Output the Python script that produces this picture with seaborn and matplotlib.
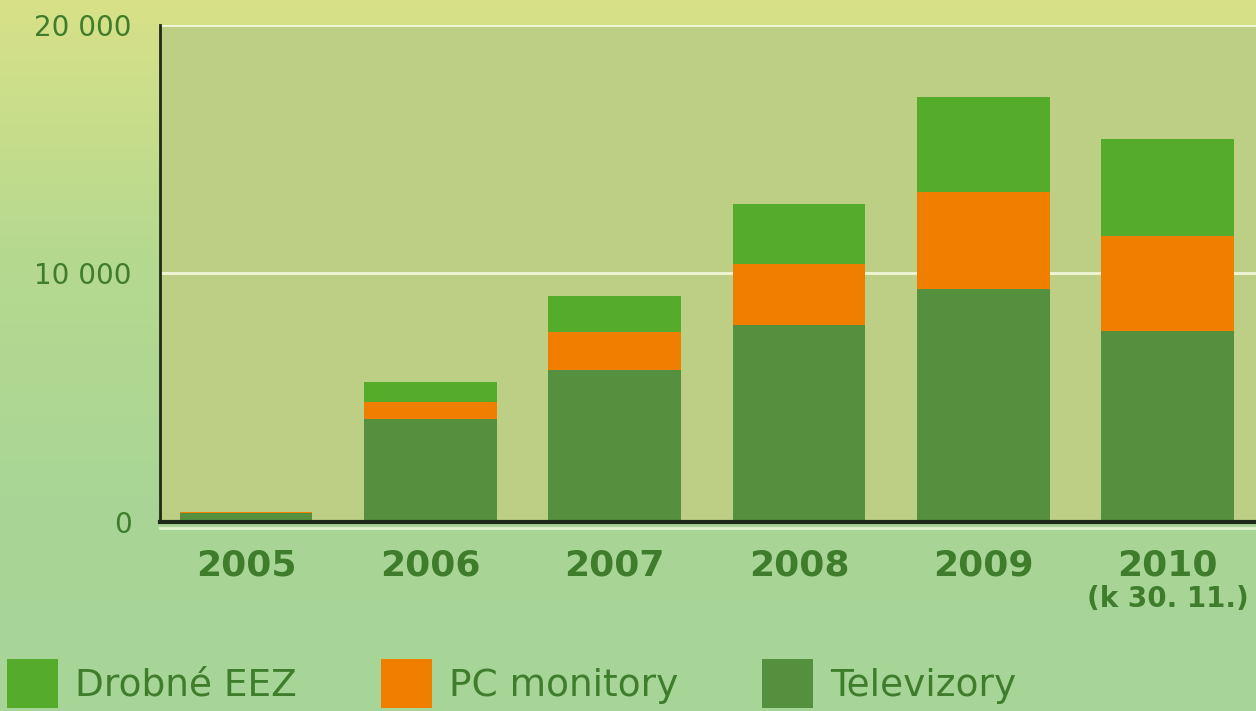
import numpy as np
import pandas as pd
import seaborn as sns
import matplotlib.pyplot as plt
from matplotlib.colors import LinearSegmentedColormap
from matplotlib.patches import Patch

years = ['2005', '2006', '2007', '2008', '2009', '2010']
televizory = [350, 4120, 6120, 7920, 9360, 7680]
pc_monitory = [50, 720, 1520, 2440, 3920, 3840]
drobne_eez = [0, 800, 1440, 2440, 3800, 3880]

series_names = ['Drobné EEZ', 'PC monitory', 'Televizory']
colors = {'Drobné EEZ': '#55ab2a', 'PC monitory': '#f07f00', 'Televizory': '#55903e'}
text_green = '#3f7d2c'

df = pd.DataFrame({'year': years, 'tv': televizory, 'pc': pc_monitory, 'eez': drobne_eez})
df['tv_pc'] = df['tv'] + df['pc']
df['total'] = df['tv_pc'] + df['eez']

fig = plt.figure(figsize=(12.56, 7.11), dpi=100)

# background gradient
bg = fig.add_axes([0, 0, 1, 1], zorder=-10)
bg.axis('off')
grad_cmap = LinearSegmentedColormap.from_list(
    'bg', [(0, '#d8e187'), (0.35, '#b6d98f'), (0.7, '#a9d696'), (1, '#a7d598')])
grad = np.linspace(0, 1, 256).reshape(-1, 1)
bg.imshow(grad, aspect='auto', cmap=grad_cmap, extent=[0, 1, 0, 1])

ax = fig.add_axes([0.127, 0.266, 0.873, 0.699])
ax.set_facecolor('#bccf84')

sns.barplot(data=df, x='year', y='total', color=colors['Drobné EEZ'], saturation=1,
            width=0.72, ax=ax, zorder=3)
sns.barplot(data=df, x='year', y='tv_pc', color=colors['PC monitory'], saturation=1,
            width=0.72, ax=ax, zorder=3)
sns.barplot(data=df, x='year', y='tv', color=colors['Televizory'], saturation=1,
            width=0.72, ax=ax, zorder=3)

ax.set_xlim(-0.47, 5.48)
ax.set_ylim(0, 20000)
ax.set_yticks([0, 10000, 20000])
ax.set_yticklabels(['0', '10 000', '20 000'])
ax.yaxis.grid(True, color='#f2f6d8', lw=2)
ax.set_axisbelow(True)

for s in ['top', 'right']:
    ax.spines[s].set_visible(False)
ax.spines['left'].set_linewidth(2)
ax.spines['left'].set_color('#1e2a1a')
ax.spines['bottom'].set_linewidth(3)
ax.spines['bottom'].set_color('#1e2a1a')
ax.spines['bottom'].set_zorder(5)

ax.tick_params(axis='y', length=0, pad=20, labelsize=20, labelcolor=text_green)
ax.tick_params(axis='x', length=0, pad=19, labelsize=26, labelcolor=text_green)
for lbl in ax.get_xticklabels():
    lbl.set_fontweight('bold')
ax.set_xlabel('')
ax.set_ylabel('')

ax.text(5, -0.155, '(k 30. 11.)', transform=ax.get_xaxis_transform(), ha='center', va='center',
        fontsize=20, color=text_green, fontweight='bold')

# light line under the baseline
ax.plot([0, 1], [-0.012, -0.012], transform=ax.transAxes, color='#e6f1cf', lw=2, clip_on=False)

handles = [Patch(facecolor=colors[n], edgecolor='none') for n in series_names]
fig.legend(handles, series_names, loc='lower left', bbox_to_anchor=(-0.012, -0.028), ncol=3,
           frameon=False, fontsize=27, labelcolor=text_green, handlelength=1.35,
           handleheight=1.65, handletextpad=0.45, columnspacing=2.25, borderaxespad=0.2)

fig.savefig('out.png', dpi=100)
